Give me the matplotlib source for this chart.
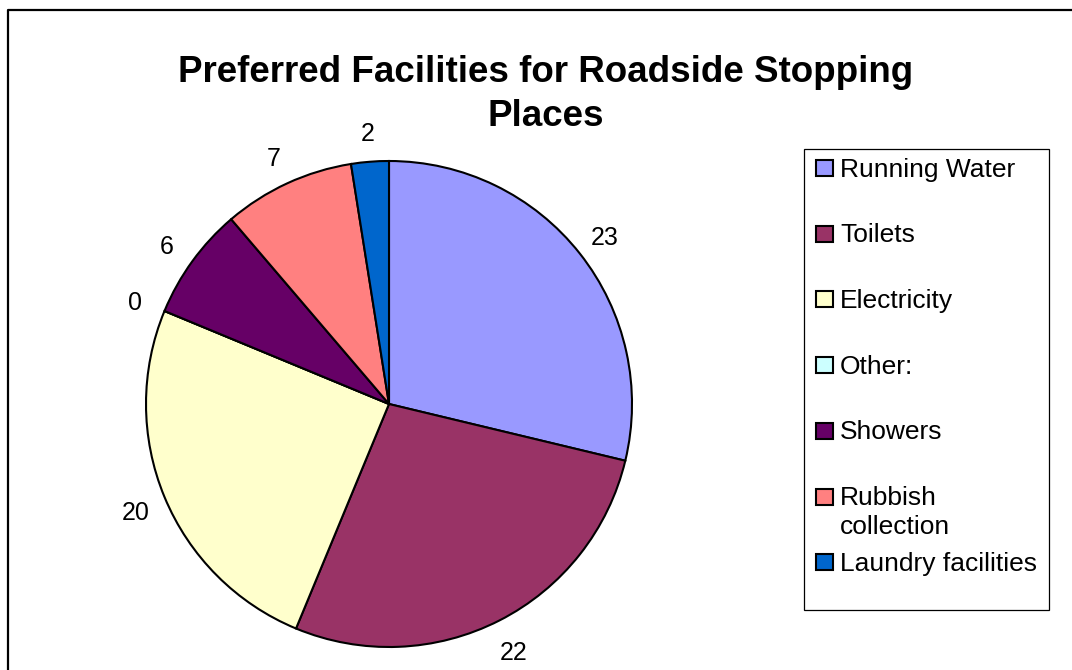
import matplotlib.pyplot as plt
from matplotlib.patches import Rectangle

plt.rcParams['font.family'] = ['Liberation Sans', 'DejaVu Sans']

# data
facilities = ['Running Water', 'Toilets', 'Electricity', 'Other:', 'Showers',
              'Rubbish\ncollection', 'Laundry facilities']
counts = [23, 22, 20, 0, 6, 7, 2]
colours = ['#9999FF', '#993366', '#FFFFCC', '#CCFFFF', '#660066', '#FF8080', '#0066CC']
title_lines = ['Preferred Facilities for Roadside Stopping', 'Places']

W, H = 1072, 670
fig = plt.figure(figsize=(W / 100, H / 100), dpi=100)
ax = fig.add_axes([0, 0, 1, 1])

# chart border (runs off the right and bottom of the image)
ax.plot([8, 8, W + 5], [-5, H - 10, H - 10], color='black', lw=1.6, clip_on=False)

wedges, texts = ax.pie(
    counts,
    labels=[str(c) for c in counts],
    colors=colours,
    startangle=90,
    counterclock=False,
    center=(389, H - 404),
    radius=243,
    labeldistance=1.13,
    wedgeprops={'edgecolor': 'black', 'linewidth': 1.5},
    textprops={'fontsize': 18},
    frame=True,
)
for t in texts:
    t.set_horizontalalignment('center')
    t.set_verticalalignment('center')
    x, y = t.get_position()
    t.set_position((x, y - 4))
ax.set_xlim(0, W)
ax.set_ylim(0, H)
ax.set_aspect('auto')
ax.axis('off')

for i, line in enumerate(title_lines):
    ax.text(546, H - 73 - i * 44, line, ha='center', va='center',
            fontsize=26.5, fontweight='bold')

# legend box
ax.add_patch(Rectangle((804, H - 610), 245, 461, facecolor='white',
                       edgecolor='black', lw=0.9))
y0 = 168
step = 65.7
for i, (name, col) in enumerate(zip(facilities, colours)):
    y = H - (y0 + i * step)
    ax.add_patch(Rectangle((816, y - 8), 17, 16, facecolor=col,
                           edgecolor='black', lw=1.5))
    ax.text(840, y + 10.5, name, ha='left', va='top', fontsize=19,
            linespacing=1.25)

fig.savefig('out.png', dpi=100)
